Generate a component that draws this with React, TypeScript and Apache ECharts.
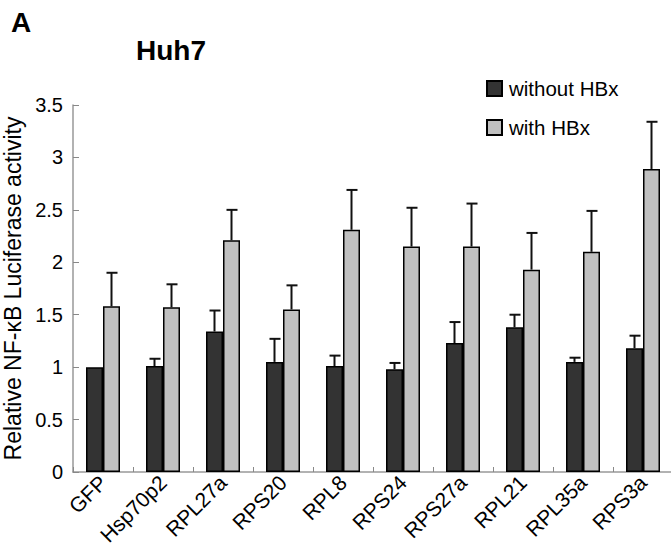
import React, { useEffect, useRef } from "react";
import * as echarts from "echarts";

const categories = ["GFP", "Hsp70p2", "RPL27a", "RPS20", "RPL8", "RPS24", "RPS27a", "RPL21", "RPL35a", "RPS3a"];
const withoutHBx = [1.0, 1.01, 1.34, 1.05, 1.01, 0.98, 1.23, 1.38, 1.05, 1.18];
const withoutErr = [0, 0.07, 0.2, 0.22, 0.1, 0.06, 0.2, 0.12, 0.04, 0.12];
const withHBx = [1.58, 1.57, 2.21, 1.55, 2.31, 2.15, 2.15, 1.93, 2.1, 2.89];
const withErr = [0.32, 0.22, 0.29, 0.23, 0.38, 0.37, 0.41, 0.35, 0.39, 0.45];
const yTicks = { min: 0, max: 3.5, interval: 0.5 };

const FONT = "Liberation Sans, Arial, sans-serif";
const BAR_W = 17;

function errorSeries(name: string, values: number[], errs: number[], offset: number) {
  return {
    name: name + " err",
    type: "custom",
    z: 5,
    silent: true,
    data: values.map((v, i) => [i, v, v + errs[i]]),
    renderItem: (params: any, api: any) => {
      const i = api.value(0);
      const v = api.value(1);
      const t = api.value(2);
      if (t - v <= 0) return null;
      const p0 = api.coord([i, v]);
      const p1 = api.coord([i, t]);
      const cx = p0[0] + offset;
      const style = { stroke: "#111", lineWidth: 2 };
      return {
        type: "group",
        children: [
          { type: "line", shape: { x1: cx, y1: p0[1], x2: cx, y2: p1[1] }, style },
          { type: "line", shape: { x1: cx - 5, y1: p1[1], x2: cx + 6, y2: p1[1] }, style },
        ],
      };
    },
  };
}

export default function App() {
  const ref = useRef<HTMLDivElement>(null);
  useEffect(() => {
    if (!ref.current) return;
    const chart = echarts.init(ref.current, undefined, { renderer: "svg" });
    chart.setOption({
      animation: false,
      backgroundColor: "#fff",
      textStyle: { fontFamily: FONT },
      graphic: [
        { type: "text", left: 11, top: 8, style: { text: "A", font: `bold 28px ${FONT}`, fill: "#000" } },
        { type: "text", left: 136, top: 36, style: { text: "Huh7", font: `bold 28px ${FONT}`, fill: "#000" } },
      ],
      legend: {
        orient: "vertical",
        left: 486,
        top: 78,
        padding: 0,
        itemWidth: 15,
        itemHeight: 15,
        itemGap: 18,
        icon: "rect",
        textStyle: { fontSize: 20.5, color: "#000", fontFamily: FONT, padding: [0, 0, 0, 2] },
        data: ["without HBx", "with HBx"],
      },
      grid: { left: 73, top: 105, width: 600, height: 367, containLabel: false, outerBoundsMode: "none" },
      xAxis: {
        type: "category",
        data: categories,
        axisLine: { lineStyle: { color: "#999", width: 1.5 } },
        axisTick: { show: true, inside: true, length: 5, lineStyle: { color: "#888" } },
        axisLabel: { rotate: 45, fontSize: 21, color: "#000", margin: 7, interval: 0, fontFamily: FONT },
      },
      yAxis: {
        type: "value",
        min: yTicks.min,
        max: yTicks.max,
        interval: yTicks.interval,
        name: "Relative NF-κB Luciferase activity",
        nameLocation: "middle",
        nameGap: 46,
        nameTextStyle: { fontSize: 23, color: "#000", fontFamily: FONT },
        axisLine: { show: true, lineStyle: { color: "#999", width: 1.5 } },
        axisTick: { show: true, inside: true, length: 6, lineStyle: { color: "#888" } },
        axisLabel: { fontSize: 20, color: "#000", margin: 10, fontFamily: FONT },
        splitLine: { show: false },
      },
      series: [
        {
          name: "without HBx",
          type: "bar",
          data: withoutHBx,
          barWidth: BAR_W,
          barGap: "0%",
          itemStyle: { color: "#333333", borderColor: "#000", borderWidth: 1.5 },
        },
        {
          name: "with HBx",
          type: "bar",
          data: withHBx,
          barWidth: BAR_W,
          barGap: "0%",
          itemStyle: { color: "#c0c0c0", borderColor: "#000", borderWidth: 1.5 },
        },
        errorSeries("without HBx", withoutHBx, withoutErr, -BAR_W / 2),
        errorSeries("with HBx", withHBx, withErr, BAR_W / 2),
      ],
    });
    return () => chart.dispose();
  }, []);
  return <div ref={ref} style={{ position: "fixed", left: 0, top: 0, width: 671, height: 548 }} />;
}
